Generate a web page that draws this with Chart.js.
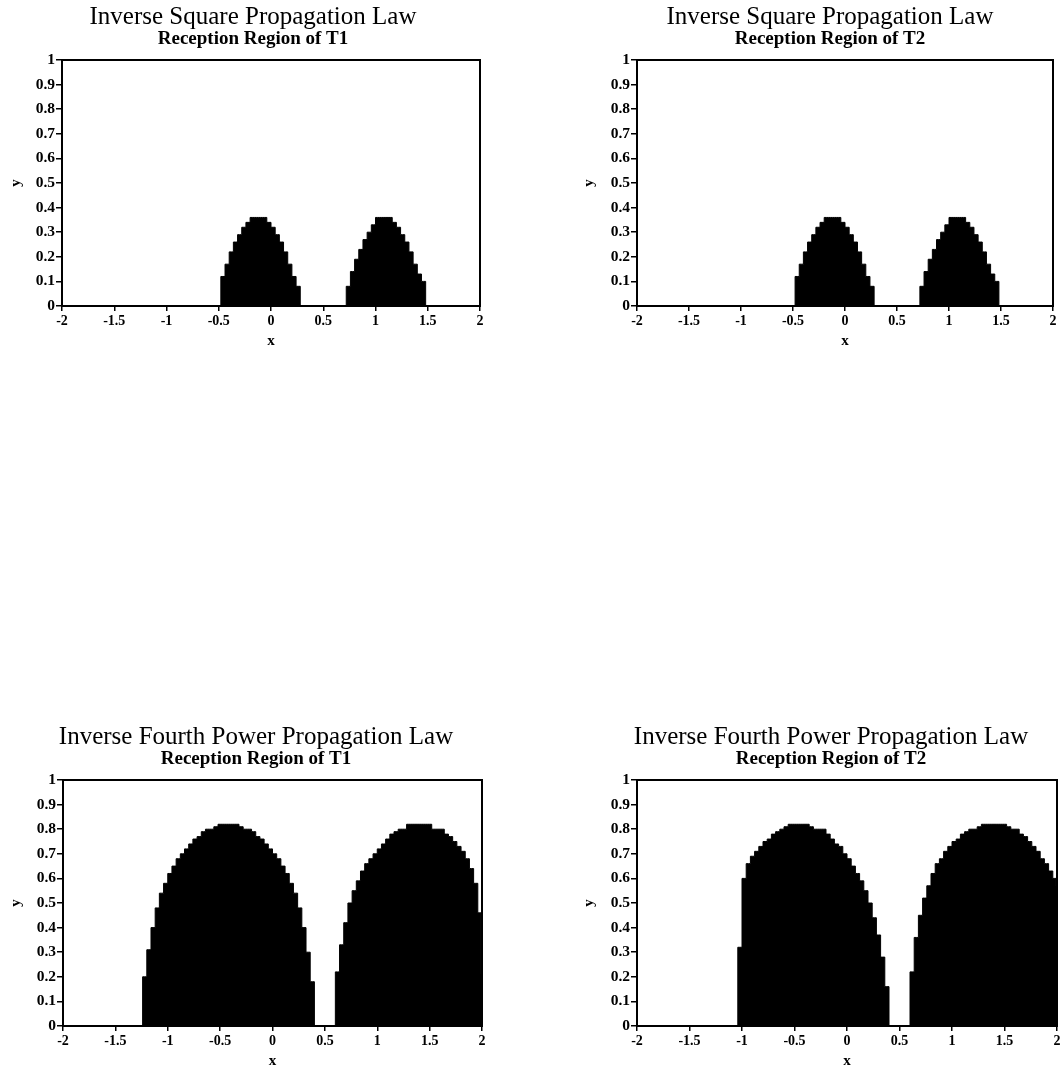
<!DOCTYPE html>
<html>
<head>
<meta charset="utf-8">
<script src="https://cdn.jsdelivr.net/npm/chart.js@4.4.1/dist/chart.umd.min.js"></script>
<style>
html,body{margin:0;padding:0;background:#fff;overflow:hidden;width:1061px;height:1070px;position:relative;}
canvas{position:absolute;}
</style>
</head>
<body>
<canvas id="c1" width="506" height="350" style="left:0px;top:0px"></canvas>
<canvas id="c2" width="500" height="350" style="left:580px;top:0px"></canvas>
<canvas id="c3" width="512" height="350" style="left:0px;top:720px"></canvas>
<canvas id="c4" width="502" height="350" style="left:580px;top:720px"></canvas>
<script>
// ---------- DATA ----------
const panelTitles = [
  'Inverse Square Propagation Law',
  'Inverse Square Propagation Law',
  'Inverse Fourth Power Propagation Law',
  'Inverse Fourth Power Propagation Law'
];
const panelSubtitles = [
  'Reception Region of T1',
  'Reception Region of T2',
  'Reception Region of T1',
  'Reception Region of T2'
];
const xTickValues = [-2, -1.5, -1, -0.5, 0, 0.5, 1, 1.5, 2];
const xTickLabels = ['-2', '-1.5', '-1', '-0.5', '0', '0.5', '1', '1.5', '2'];
const yTickValues = [0, 0.1, 0.2, 0.3, 0.4, 0.5, 0.6, 0.7, 0.8, 0.9, 1];
const yTickLabels = ['0', '0.1', '0.2', '0.3', '0.4', '0.5', '0.6', '0.7', '0.8', '0.9', '1'];

// column centres of the reception grid (x), last entry is the right boundary
const columnX = [
  -1.98,-1.94,-1.90,-1.86,-1.82,-1.78,-1.74,-1.70,-1.66,-1.62,
  -1.58,-1.54,-1.50,-1.46,-1.42,-1.38,-1.34,-1.30,-1.26,-1.22,
  -1.18,-1.14,-1.10,-1.06,-1.02,-0.98,-0.94,-0.90,-0.86,-0.82,
  -0.78,-0.74,-0.70,-0.66,-0.62,-0.58,-0.54,-0.50,-0.46,-0.42,
  -0.38,-0.34,-0.30,-0.26,-0.22,-0.18,-0.14,-0.10,-0.06,-0.02,
   0.02, 0.06, 0.10, 0.14, 0.18, 0.22, 0.26, 0.30, 0.34, 0.38,
   0.42, 0.46, 0.50, 0.54, 0.58, 0.62, 0.66, 0.70, 0.74, 0.78,
   0.82, 0.86, 0.90, 0.94, 0.98, 1.02, 1.06, 1.10, 1.14, 1.18,
   1.22, 1.26, 1.30, 1.34, 1.38, 1.42, 1.46, 1.50, 1.54, 1.58,
   1.62, 1.66, 1.70, 1.74, 1.78, 1.82, 1.86, 1.90, 1.94, 1.98,
   2.00
];

// reception-region heights (y), inverse square law, T1
const squareT1 = [
  0,0,0,0,0,0,0,0,0,0,
  0,0,0,0,0,0,0,0,0,0,
  0,0,0,0,0,0,0,0,0,0,
  0,0,0,0,0,0,0,0,0.12,0.17,
  0.22,0.26,0.29,0.32,0.34,0.36,0.36,0.36,0.36,0.34,
  0.32,0.29,0.26,0.22,0.17,0.12,0.08,0,0,0,
  0,0,0,0,0,0,0,0,0.08,0.14,
  0.19,0.23,0.27,0.30,0.33,0.36,0.36,0.36,0.36,0.34,
  0.32,0.29,0.26,0.22,0.17,0.13,0.10,0,0,0,
  0,0,0,0,0,0,0,0,0,0,
  0
];
// inverse square law, T2
const squareT2 = [
  0,0,0,0,0,0,0,0,0,0,
  0,0,0,0,0,0,0,0,0,0,
  0,0,0,0,0,0,0,0,0,0,
  0,0,0,0,0,0,0,0,0.12,0.17,
  0.22,0.26,0.29,0.32,0.34,0.36,0.36,0.36,0.36,0.34,
  0.32,0.29,0.26,0.22,0.17,0.12,0.08,0,0,0,
  0,0,0,0,0,0,0,0,0.08,0.14,
  0.19,0.23,0.27,0.30,0.33,0.36,0.36,0.36,0.36,0.34,
  0.32,0.29,0.26,0.22,0.17,0.13,0.10,0,0,0,
  0,0,0,0,0,0,0,0,0,0,
  0
];
// inverse fourth power law, T1
const fourthT1 = [
  0,0,0,0,0,0,0,0,0,0,
  0,0,0,0,0,0,0,0,0,0.20,
  0.31,0.40,0.48,0.54,0.58,0.62,0.65,0.68,0.70,0.72,
  0.74,0.76,0.77,0.79,0.80,0.80,0.81,0.82,0.82,0.82,
  0.82,0.82,0.81,0.80,0.80,0.79,0.77,0.76,0.74,0.72,
  0.70,0.68,0.65,0.62,0.58,0.54,0.48,0.40,0.30,0.18,
  0,0,0,0,0,0.22,0.33,0.42,0.50,0.55,
  0.59,0.63,0.66,0.68,0.70,0.72,0.74,0.76,0.78,0.79,
  0.80,0.80,0.82,0.82,0.82,0.82,0.82,0.82,0.80,0.80,
  0.80,0.78,0.77,0.75,0.73,0.71,0.68,0.64,0.58,0.46,
  0.21
];
// inverse fourth power law, T2
const fourthT2 = [
  0,0,0,0,0,0,0,0,0,0,
  0,0,0,0,0,0,0,0,0,0,
  0,0,0,0,0.32,0.60,0.66,0.69,0.71,0.73,
  0.75,0.76,0.78,0.79,0.80,0.81,0.82,0.82,0.82,0.82,
  0.82,0.81,0.80,0.80,0.80,0.78,0.76,0.74,0.73,0.70,
  0.68,0.65,0.62,0.59,0.55,0.50,0.44,0.37,0.28,0.16,
  0,0,0,0,0,0.22,0.36,0.45,0.52,0.57,
  0.62,0.66,0.68,0.71,0.73,0.75,0.76,0.78,0.79,0.80,
  0.80,0.81,0.82,0.82,0.82,0.82,0.82,0.82,0.81,0.80,
  0.80,0.78,0.77,0.75,0.73,0.71,0.68,0.66,0.63,0.60,
  0.57
];

// ---------- LAYOUT (pixels) ----------
const panels = [
  {id:'c1', heights: squareT1,  leftW: 62, rightW: 26, yTitlePad: 7},
  {id:'c2', heights: squareT2,  leftW: 57, rightW: 27, yTitlePad: 0},
  {id:'c3', heights: fourthT1,  leftW: 63, rightW: 30, yTitlePad: 7},
  {id:'c4', heights: fourthT2,  leftW: 57, rightW: 25, yTitlePad: 0}
];

const SERIF = "'Liberation Serif', 'Times New Roman', serif";
Chart.defaults.color = '#000';
Chart.defaults.font.family = SERIF;

const frame = {
  id: 'frame',
  afterDatasetsDraw(chart) {
    const a = chart.chartArea, ctx = chart.ctx;
    ctx.save();
    ctx.strokeStyle = '#000';
    ctx.lineWidth = 2;
    ctx.strokeRect(a.left, a.top, a.right - a.left, a.bottom - a.top);
    ctx.restore();
  }
};

panels.forEach((p, k) => {
  const pts = columnX.map((x, i) => ({x: x, y: p.heights[i]}));
  new Chart(document.getElementById(p.id), {
    type: 'line',
    data: {
      datasets: [{
        data: pts,
        stepped: 'middle',
        fill: 'origin',
        backgroundColor: '#000',
        borderColor: '#000',
        borderWidth: 1,
        pointRadius: 0
      }]
    },
    plugins: [frame],
    options: {
      responsive: false,
      animation: false,
      events: [],
      layout: {padding: 0},
      plugins: {
        legend: {display: false},
        tooltip: {enabled: false},
        title: {
          display: true,
          text: panelTitles[k],
          font: {family: SERIF, size: 25, weight: 'normal', lineHeight: 1.0},
          padding: {top: 4.5, bottom: 0},
          color: '#000'
        },
        subtitle: {
          display: true,
          text: panelSubtitles[k],
          font: {family: SERIF, size: 19, weight: 'bold', lineHeight: 1.0},
          padding: {top: 0, bottom: 11.5},
          color: '#000'
        }
      },
      scales: {
        x: {
          type: 'linear',
          min: -2, max: 2,
          afterBuildTicks: s => { s.ticks = xTickValues.map(v => ({value: v})); },
          afterFit: s => { s.height = 44; },
          ticks: {
            autoSkip: false, maxRotation: 0, padding: 2,
            font: {family: SERIF, size: 14, weight: 'bold'},
            callback: (v, i) => xTickLabels[i]
          },
          grid: {display: true, drawOnChartArea: false, drawTicks: true, tickLength: 5, color: '#000', lineWidth: 1.5},
          border: {display: false},
          title: {display: true, text: 'x', font: {family: SERIF, size: 15, weight: 'bold'}, padding: {top: 0, bottom: 0}}
        },
        y: {
          type: 'linear',
          position: 'left',
          min: 0, max: 1,
          afterBuildTicks: s => { s.ticks = yTickValues.map(v => ({value: v})); },
          afterFit: s => { s.width = p.leftW; },
          ticks: {
            autoSkip: false, padding: 1,
            font: {family: SERIF, size: 15.5, weight: 'bold'},
            callback: (v, i) => yTickLabels[i]
          },
          grid: {display: true, drawOnChartArea: false, drawTicks: true, tickLength: 6, color: '#000', lineWidth: 1.5},
          border: {display: false},
          title: {display: true, text: 'y', font: {family: SERIF, size: 15, weight: 'bold'}, padding: {top: p.yTitlePad, bottom: 0}}
        },
        yRight: {
          type: 'linear',
          position: 'right',
          display: true,
          ticks: {display: false},
          grid: {display: false},
          border: {display: false},
          afterFit: s => { s.width = p.rightW; }
        }
      }
    }
  });
});
</script>
</body>
</html>
